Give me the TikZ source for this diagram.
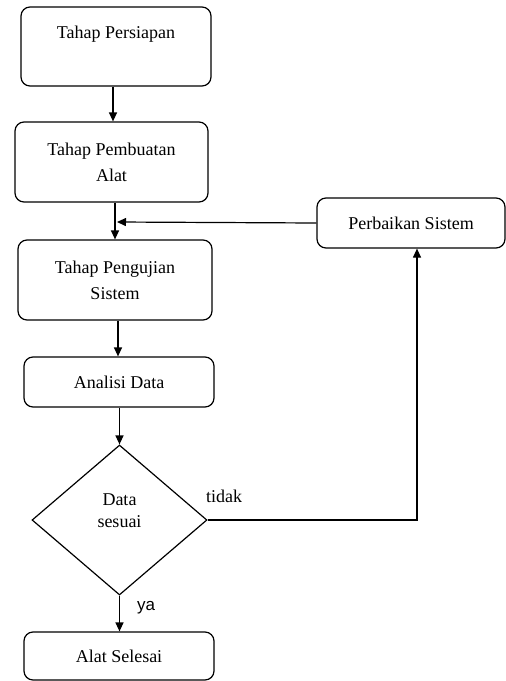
\documentclass[tikz,border=0pt]{standalone}
\usepackage{fontspec}
\setmainfont{Liberation Serif}
\newfontfamily\sansf{Liberation Sans}
\usetikzlibrary{arrows.meta,shapes.geometric,calc}
\tikzset{
  box/.style={draw, line width=1.2pt, rounded corners=9pt, align=center, inner sep=0pt,
    font=\fontsize{18}{26}\selectfont},
  dia/.style={draw, line width=1.2pt, diamond, aspect=1.17, inner sep=0pt},
  arr/.style={line width=1.2pt, -{Triangle[length=9pt,width=8pt]}},
  lbl/.style={inner sep=0pt, font=\fontsize{18}{22}\selectfont, align=center}
}
\begin{document}
\begin{tikzpicture}[x=1pt,y=-1pt]
\useasboundingbox (0,0) rectangle (506,681);
\node[box, minimum width=190pt, minimum height=79pt] (p1) at (116,46.5) {Tahap Persiapan\\[2pt]\mbox{}};
\node[box, minimum width=193pt, minimum height=80pt] (p2) at (111.5,162) {Tahap Pembuatan\\Alat};
\node[box, minimum width=194pt, minimum height=80pt] (p3) at (115,280) {Tahap Pengujian\\Sistem};
\node[box, minimum width=190pt, minimum height=50pt] (p4) at (119,382) {Analisi Data};
\node[dia, minimum width=175pt, minimum height=150pt] (d) at (119.5,520) {};
\node[lbl] (dt) at (119.5,511) {Data\\sesuai};
\node[box, minimum width=190pt, minimum height=48pt] (p5) at (119,656) {Alat Selesai};
\node[box, minimum width=188pt, minimum height=50pt] (r) at (411,223) {Perbaikan Sistem};
\coordinate (c1) at (113,0);
\coordinate (c2) at (115,0);
\coordinate (c3) at (118,0);
\coordinate (c4) at (119.5,0);
\coordinate (cr) at (417,0);
\coordinate (j) at (117,222);
\draw[arr] (p1.south -| c1) -- (p2.north -| c1);
\draw[arr] (p2.south -| c2) -- (p3.north -| c2);
\draw[arr] (r.west) -- (j);
\draw[arr] (p3.south -| c3) -- (p4.north -| c3);
\draw[arr] (p4.south -| c4) -- (d.north);
\draw[arr] (d.south) -- (p5.north -| c4);
\draw[arr] (d.east) -- (d.east -| cr) -- (r.south -| cr);
\node[lbl] (tidak) at (224,496) {tidak};
\node[lbl, font=\sansf\fontsize{17}{20}\selectfont] (ya) at (146,608) {ya};
\end{tikzpicture}
\end{document}
